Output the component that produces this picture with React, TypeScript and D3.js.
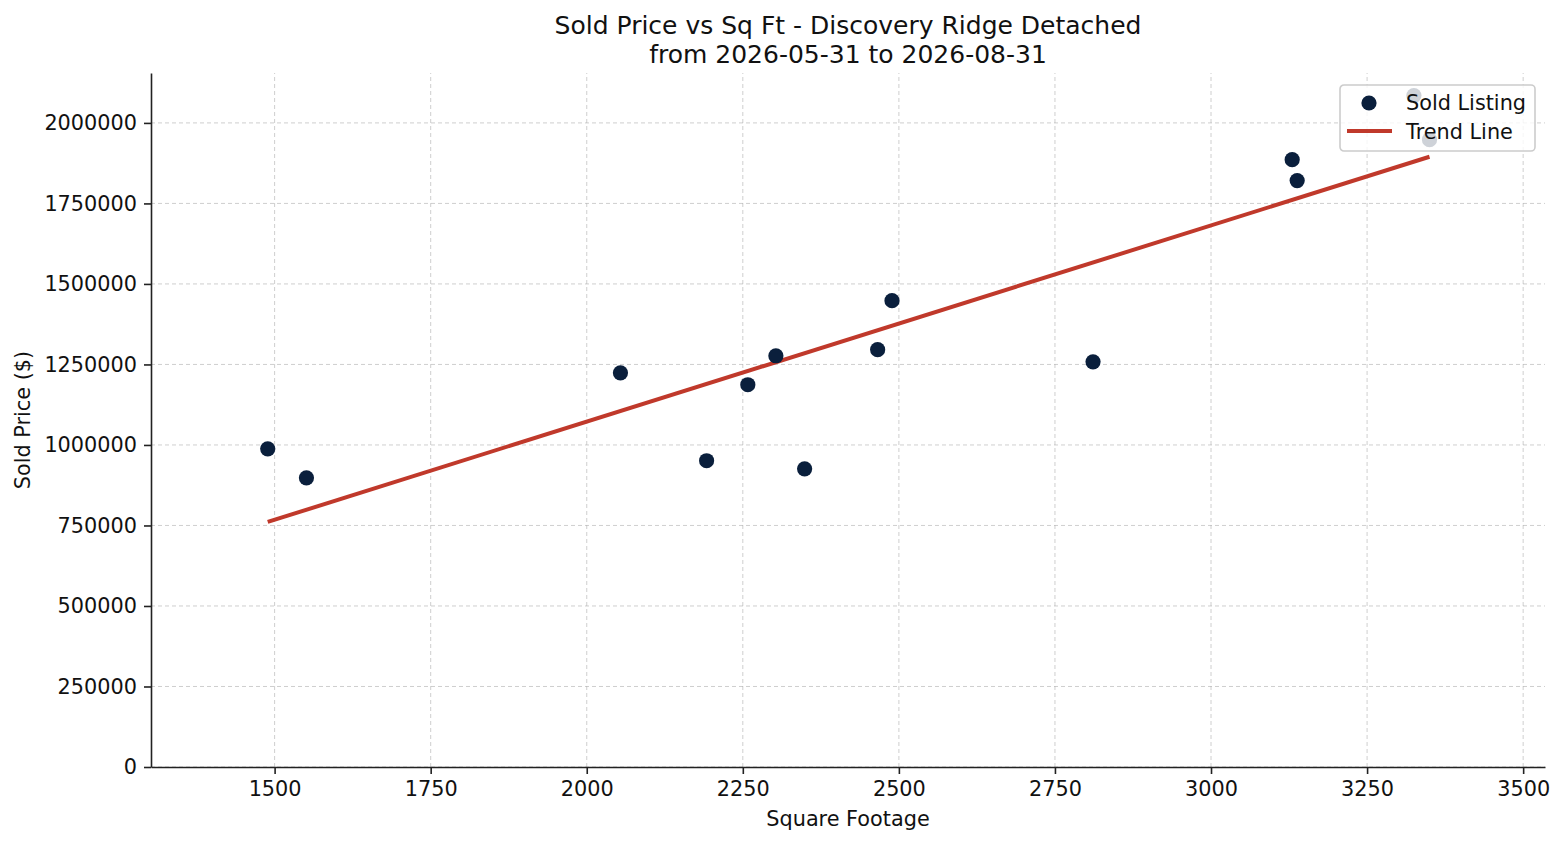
import React, { useRef, useEffect } from 'react';
import * as d3 from 'd3';

// Sold listings
const sqft = [1489, 1551, 2054, 2192, 2258, 2303, 2349, 2466, 2489, 2811, 3130, 3138, 3325, 3350];
const soldPrice = [988000, 898000, 1224000, 951000, 1187000, 1277000, 926000, 1296000, 1448000, 1258000, 1886000, 1821000, 2085000, 1948000];

// Trend line ends
const trendSqft = [1489, 3350];
const trendPrice = [761000, 1895000];

const xTicks = [1500, 1750, 2000, 2250, 2500, 2750, 3000, 3250, 3500];
const yTicks = [0, 250000, 500000, 750000, 1000000, 1250000, 1500000, 1750000, 2000000];

const titleLines = ['Sold Price vs Sq Ft - Discovery Ridge Detached', 'from 2026-05-31 to 2026-08-31'];
const legendLabels = ['Sold Listing', 'Trend Line'];

const POINT_COLOR = '#0a1f3c';
const TREND_COLOR = '#c0392b';
const FONT = '"DejaVu Sans", sans-serif';
const BASE_SIZE = 20.8;

export default function App() {
  const ref = useRef<SVGSVGElement | null>(null);

  const width = 1565;
  const height = 845;
  const margin = { top: 73, right: 20, bottom: 78, left: 151 };

  useEffect(() => {
    if (!ref.current) return;
    const svg = d3.select(ref.current);
    svg.selectAll('*').remove();

    const x = d3.scaleLinear().domain([1302, 3535]).range([margin.left, width - margin.right]);
    const y = d3.scaleLinear().domain([0, 2155000]).range([height - margin.bottom, margin.top]);

    svg.append('rect').attr('width', width).attr('height', height).attr('fill', '#ffffff');

    // grid
    const grid = svg.append('g');
    grid.selectAll('line.gx')
      .data(xTicks)
      .join('line')
      .attr('x1', d => x(d)).attr('x2', d => x(d))
      .attr('y1', y.range()[0]).attr('y2', y.range()[1])
      .attr('stroke', '#b0b0b0').attr('stroke-width', 1).attr('stroke-dasharray', '4,3').attr('opacity', 0.6);
    grid.selectAll('line.gy')
      .data(yTicks)
      .join('line')
      .attr('x1', x.range()[0]).attr('x2', x.range()[1])
      .attr('y1', d => y(d)).attr('y2', d => y(d))
      .attr('stroke', '#b0b0b0').attr('stroke-width', 1).attr('stroke-dasharray', '4,3').attr('opacity', 0.6);

    // axes
    const xAxis = svg.append('g')
      .attr('transform', `translate(0,${height - margin.bottom})`)
      .call(d3.axisBottom(x).tickValues(xTicks).tickSizeInner(7).tickSizeOuter(0).tickPadding(7).tickFormat(d3.format('d')));
    const yAxis = svg.append('g')
      .attr('transform', `translate(${margin.left},0)`)
      .call(d3.axisLeft(y).tickValues(yTicks).tickSizeInner(7).tickSizeOuter(0).tickPadding(7).tickFormat(d3.format('d')));
    [xAxis, yAxis].forEach(a => {
      a.select('.domain').attr('stroke', '#222').attr('stroke-width', 1.6);
      a.selectAll('.tick line').attr('stroke', '#222').attr('stroke-width', 1.6);
      a.selectAll('.tick text').attr('font-family', FONT).attr('font-size', BASE_SIZE).attr('fill', '#111');
    });

    // trend line
    const line = d3.line<number>()
      .x((_d, i) => x(trendSqft[i]))
      .y(d => y(d));
    svg.append('path')
      .datum(trendPrice)
      .attr('d', line)
      .attr('fill', 'none')
      .attr('stroke', TREND_COLOR)
      .attr('stroke-width', 4);

    // points
    svg.append('g')
      .selectAll('circle')
      .data(sqft)
      .join('circle')
      .attr('cx', d => x(d))
      .attr('cy', (_d, i) => y(soldPrice[i]))
      .attr('r', 7.6)
      .attr('fill', POINT_COLOR);

    // titles
    titleLines.forEach((t, i) => {
      svg.append('text')
        .attr('x', (x.range()[0] + x.range()[1]) / 2)
        .attr('y', 34 + i * 29)
        .attr('text-anchor', 'middle')
        .attr('font-family', FONT)
        .attr('font-size', 25)
        .attr('fill', '#111')
        .text(t);
    });

    svg.append('text')
      .attr('x', (x.range()[0] + x.range()[1]) / 2)
      .attr('y', 826)
      .attr('text-anchor', 'middle')
      .attr('font-family', FONT).attr('font-size', BASE_SIZE).attr('fill', '#111')
      .text('Square Footage');

    svg.append('text')
      .attr('transform', `translate(30,${(y.range()[0] + y.range()[1]) / 2}) rotate(-90)`)
      .attr('text-anchor', 'middle')
      .attr('font-family', FONT).attr('font-size', BASE_SIZE).attr('fill', '#111')
      .text('Sold Price ($)');

    // legend
    const lg = svg.append('g').attr('transform', 'translate(1340,85)');
    lg.append('rect')
      .attr('width', 195).attr('height', 66).attr('rx', 4)
      .attr('fill', '#ffffff').attr('fill-opacity', 0.8)
      .attr('stroke', '#cccccc').attr('stroke-width', 1.6);
    lg.append('circle').attr('cx', 29).attr('cy', 18).attr('r', 7.6).attr('fill', POINT_COLOR);
    lg.append('line').attr('x1', 7).attr('x2', 52).attr('y1', 46).attr('y2', 46)
      .attr('stroke', TREND_COLOR).attr('stroke-width', 4);
    legendLabels.forEach((l, i) => {
      lg.append('text')
        .attr('x', 66).attr('y', 25 + i * 29)
        .attr('font-family', FONT).attr('font-size', BASE_SIZE).attr('fill', '#111')
        .text(l);
    });
  }, []);

  return (
    <svg
      ref={ref}
      width={width}
      height={height}
      style={{ position: 'absolute', left: 0, top: 0 }}
    />
  );
}
